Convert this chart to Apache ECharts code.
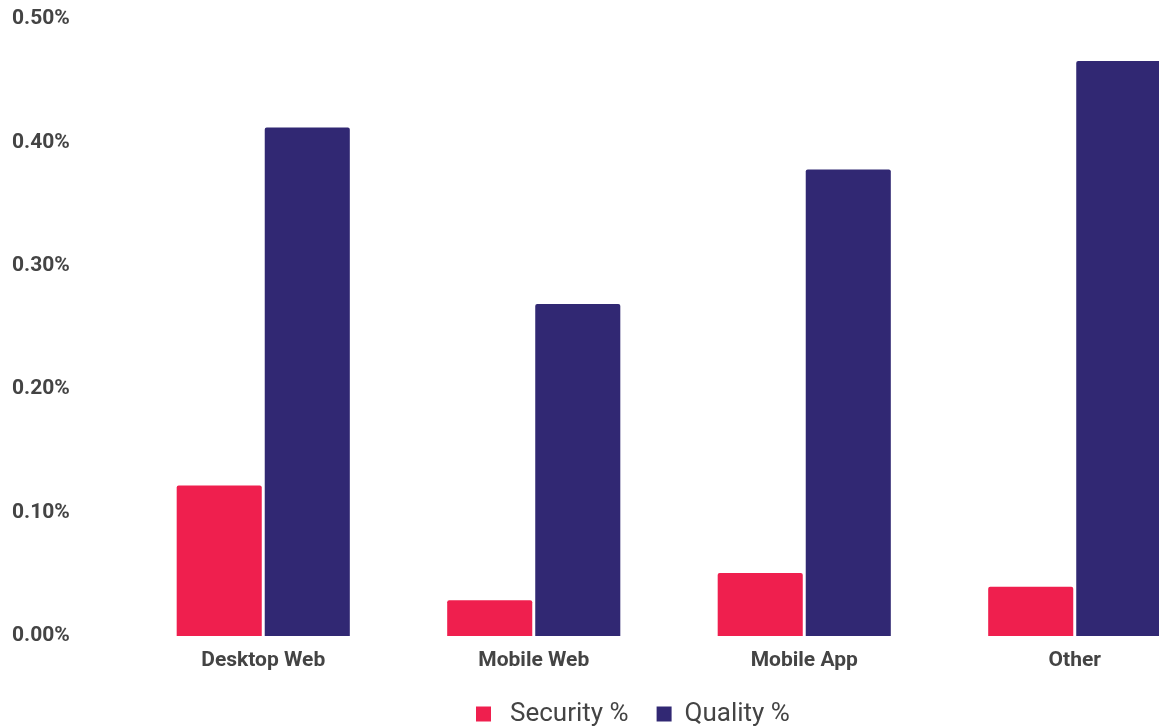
<!DOCTYPE html>
<html>
<head>
<meta charset="utf-8">
<script src="https://cdn.jsdelivr.net/npm/echarts@6/dist/echarts.min.js"></script>
<style>
  html, body { margin: 0; padding: 0; background: #fff; }
  #chart { width: 1159px; height: 727px; }
</style>
</head>
<body>
<div id="chart"></div>
<script>
// Issue share by platform (percent of sessions)
const categories = ['Desktop Web', 'Mobile Web', 'Mobile App', 'Other'];
const securityPct = [0.122, 0.029, 0.051, 0.040];
const qualityPct = [0.412, 0.269, 0.378, 0.466];

const chart = echarts.init(document.getElementById('chart'));
chart.setOption({
  animation: false,
  backgroundColor: '#ffffff',
  grid: { left: 128, top: 19, width: 1082, height: 617, outerBoundsMode: 'none' },
  legend: {
    bottom: 0,
    left: 476,
    padding: 0,
    itemWidth: 15,
    itemHeight: 15,
    itemGap: 28,
    icon: 'rect',
    textStyle: { fontFamily: 'Roboto', fontSize: 26, color: '#444' },
    data: [
      { name: 'Security %', textStyle: { padding: [0, 0, 0, 14] } },
      { name: 'Quality %', textStyle: { padding: [0, 0, 0, 8] } }
    ]
  },
  xAxis: {
    type: 'category',
    data: categories,
    axisLine: { show: false },
    axisTick: { show: false },
    axisLabel: { fontFamily: 'Roboto', fontWeight: 'bold', fontSize: 21, color: '#444', margin: 14 }
  },
  yAxis: {
    type: 'value',
    min: 0,
    max: 0.5,
    interval: 0.1,
    splitLine: { show: false },
    axisLine: { show: false },
    axisTick: { show: false },
    axisLabel: {
      fontFamily: 'Roboto', fontWeight: 'bold', fontSize: 21, color: '#444',
      align: 'left', margin: 116,
      formatter: v => v.toFixed(2) + '%'
    }
  },
  series: [
    {
      name: 'Security %', type: 'bar', data: securityPct,
      barCategoryGap: '36%', barGap: '3.5%',
      itemStyle: { color: '#EF1F4E', borderRadius: [2, 2, 0, 0] }
    },
    {
      name: 'Quality %', type: 'bar', data: qualityPct,
      barCategoryGap: '36%', barGap: '3.5%',
      itemStyle: { color: '#312873', borderRadius: [2, 2, 0, 0] }
    }
  ]
});
</script>
</body>
</html>
